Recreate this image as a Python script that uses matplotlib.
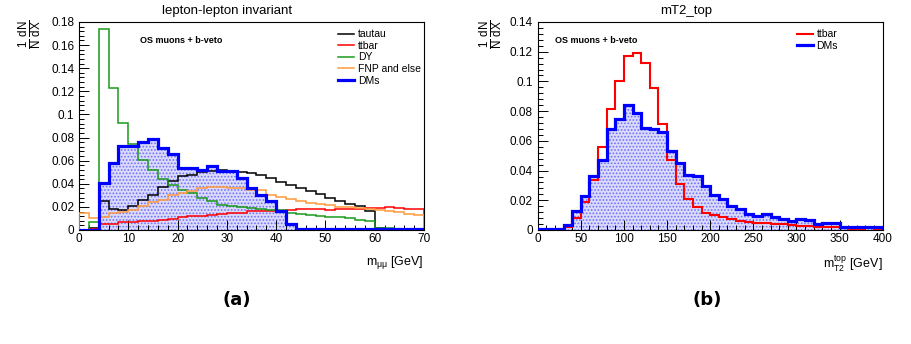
import matplotlib
matplotlib.use('Agg')
import matplotlib.pyplot as plt
import numpy as np
from matplotlib.ticker import MultipleLocator, FuncFormatter

plt.rcParams['font.family'] = ['Liberation Sans', 'DejaVu Sans']
plt.rcParams['mathtext.fontset'] = 'custom'
plt.rcParams['mathtext.rm'] = 'Liberation Sans'
plt.rcParams['mathtext.it'] = 'Liberation Sans:italic'
plt.rcParams['hatch.linewidth'] = 0.8

# ---- left panel: m_mumu, 2 GeV bins from 0 to 70
mll_edges = np.arange(0, 72, 2)
mll_tautau = [0.0, 0.0015, 0.025, 0.0186, 0.0173, 0.0207, 0.026, 0.030, 0.037, 0.042,
              0.0467, 0.048, 0.050, 0.051, 0.052, 0.0505, 0.0505, 0.049, 0.0476, 0.0447,
              0.0418, 0.039, 0.0367, 0.0341, 0.0309, 0.028, 0.025, 0.0225, 0.0208, 0.0164,
              0.002, 0.001, 0.0, 0.0, 0.0]
mll_ttbar = [0.0, 0.001, 0.005, 0.0055, 0.0065, 0.007, 0.0075, 0.008, 0.009, 0.0095,
             0.0115, 0.012, 0.0125, 0.013, 0.0135, 0.0144, 0.015, 0.0161, 0.0165, 0.0167,
             0.0167, 0.0173, 0.0179, 0.018, 0.0179, 0.0173, 0.0179, 0.0182, 0.0185, 0.019,
             0.019, 0.0202, 0.0188, 0.0182, 0.0182]
mll_dy = [0.0, 0.007, 0.174, 0.1226, 0.0923, 0.0744, 0.061, 0.052, 0.044, 0.039,
          0.035, 0.032, 0.028, 0.025, 0.022, 0.0205, 0.020, 0.019, 0.018, 0.0175,
          0.017, 0.015, 0.014, 0.013, 0.012, 0.0115, 0.011, 0.010, 0.009, 0.008,
          0.002, 0.002, 0.0, 0.0, 0.0]
mll_fnp = [0.0144, 0.0105, 0.0112, 0.0144, 0.0159, 0.0173, 0.021, 0.0245, 0.026, 0.030,
           0.032, 0.034, 0.036, 0.037, 0.037, 0.0367, 0.0367, 0.035, 0.0342, 0.0303,
           0.0289, 0.0268, 0.0254, 0.0237, 0.0225, 0.0216, 0.0202, 0.0195, 0.0188, 0.018,
           0.017, 0.0162, 0.0153, 0.0142, 0.0127]
mll_dms = [0.0, 0.0, 0.041, 0.0577, 0.0727, 0.0727, 0.0759, 0.0785, 0.071, 0.0655,
           0.054, 0.054, 0.052, 0.0557, 0.051, 0.0513, 0.0447, 0.0361, 0.0303, 0.025,
           0.0167, 0.005, 0.0006, 0.0006, 0.0006, 0.0006, 0.0006, 0.0006, 0.0006, 0.0006,
           0.0006, 0.0006, 0.0006, 0.0006, 0.0006]

# ---- right panel: mT2_top, 10 GeV bins from 0 to 400
mt2_edges = np.arange(0, 410, 10)
mt2_ttbar = [0.0, 0.0, 0.0, 0.0023, 0.0079, 0.019, 0.0337, 0.0556, 0.0812, 0.1005,
             0.1171, 0.1189, 0.1126, 0.0958, 0.0713, 0.0471, 0.031, 0.0206, 0.0153, 0.0117,
             0.0101, 0.0085, 0.0072, 0.0063, 0.0056, 0.0049, 0.0049, 0.0043, 0.004, 0.0034,
             0.0027, 0.0027, 0.0022, 0.0018, 0.0022, 0.0013, 0.0009, 0.0007, 0.0011, 0.0007]
mt2_dms = [0.0004, 0.0004, 0.001, 0.0034, 0.013, 0.0231, 0.0363, 0.0471, 0.068, 0.0745,
           0.0841, 0.0785, 0.0689, 0.068, 0.0657, 0.0534, 0.0449, 0.037, 0.0363, 0.0296,
           0.0236, 0.0206, 0.0162, 0.0139, 0.0108, 0.0097, 0.0108, 0.009, 0.0072, 0.0063,
           0.0074, 0.0067, 0.004, 0.0045, 0.0045, 0.0022, 0.0018, 0.0018, 0.0022, 0.0018]

BLUE = '#0000ff'
RED = '#ff0000'
GREEN = '#1a9a1a'
ORANGE = '#ff9a3c'
FILL = '#dadafb'


def style_axes(ax, xmax, xmaj, xmin, ymax):
    ax.set_xlim(0, xmax)
    ax.set_ylim(0, ymax)
    ax.xaxis.set_major_locator(MultipleLocator(xmaj))
    ax.xaxis.set_minor_locator(MultipleLocator(xmin))
    ax.yaxis.set_major_locator(MultipleLocator(0.02))
    ax.yaxis.set_minor_locator(MultipleLocator(0.004))
    ax.yaxis.set_major_formatter(FuncFormatter(lambda v, p: '%g' % round(v, 3)))
    ax.tick_params(which='both', direction='in', top=False, right=False, labelsize=8.5, width=0.7)
    ax.tick_params(which='major', length=7)
    ax.tick_params(which='minor', length=3.5)
    ax.tick_params(axis='x', pad=2)
    for s in ax.spines.values():
        s.set_linewidth(0.8)


def dms_fill(ax, vals, edges):
    ax.stairs(vals, edges, fill=True, facecolor=FILL, edgecolor='#7070ff', hatch='.....',
              linewidth=0, zorder=1)


fig = plt.figure(figsize=(9.12, 3.44), dpi=100)
W, H = 912., 344.
axL = fig.add_axes([79 / W, 1 - 230 / H, 345 / W, 208 / H])
axR = fig.add_axes([537.7 / W, 1 - 230 / H, 345 / W, 208 / H])

# left
style_axes(axL, 70, 10, 2, 0.18)
dms_fill(axL, mll_dms, mll_edges)
axL.stairs(mll_tautau, mll_edges, color='black', lw=1.1, label='tautau', zorder=3)
axL.stairs(mll_ttbar, mll_edges, color=RED, lw=1.1, label='ttbar', zorder=3)
axL.stairs(mll_dy, mll_edges, color=GREEN, lw=1.1, label='DY', zorder=3)
axL.stairs(mll_fnp, mll_edges, color=ORANGE, lw=1.1, label='FNP and else', zorder=3)
axL.stairs(mll_dms, mll_edges, color=BLUE, lw=2.3, label='DMs', zorder=4)

# right
style_axes(axR, 400, 50, 10, 0.14)
dms_fill(axR, mt2_dms, mt2_edges)
axR.stairs(mt2_ttbar, mt2_edges, color=RED, lw=1.5, label='ttbar', zorder=3)
axR.stairs(mt2_dms, mt2_edges, color=BLUE, lw=2.3, label='DMs', zorder=4)

ylab = r'$\frac{\mathrm{1}}{\mathrm{N}}\,\frac{\mathrm{dN}}{\mathrm{dX}}$'
for ax, title, tx, yx, xlab in [
        (axL, 'lepton-lepton invariant', 0.429, -0.142, r'm$_{\mathrm{\mu\mu}}$ [GeV]'),
        (axR, 'mT2_top', 0.43, -0.135, r'm$^{\mathrm{top}}_{\mathrm{T2}}$ [GeV]')]:
    ax.text(tx, 1.055, title, transform=ax.transAxes, ha='center', va='center', fontsize=9.5)
    ax.text(yx, 0.94, ylab, transform=ax.transAxes, rotation=90, ha='center', va='center',
            fontsize=12)
    ax.set_xlabel(xlab, fontsize=9)
    ax.xaxis.set_label_coords(1.0, -0.115)
    ax.xaxis.label.set_horizontalalignment('right')
    ax.text(0.177 if ax is axL else 0.05, 0.913, 'OS muons + b-veto', transform=ax.transAxes,
            fontsize=6.5, fontweight='bold', va='center')
    ax.legend(loc='upper left', bbox_to_anchor=(0.752, 0.965), frameon=False, fontsize=7.5,
              handlelength=1.5, handletextpad=0.35, labelspacing=0.15, borderpad=0,
              borderaxespad=0)

fig.text(237 / W, 1 - 300 / H, '(a)', ha='center', va='center', fontsize=13, fontweight='bold',
         family='DejaVu Sans')
fig.text(707 / W, 1 - 300 / H, '(b)', ha='center', va='center', fontsize=13, fontweight='bold',
         family='DejaVu Sans')

fig.savefig('out.png', dpi=100)
